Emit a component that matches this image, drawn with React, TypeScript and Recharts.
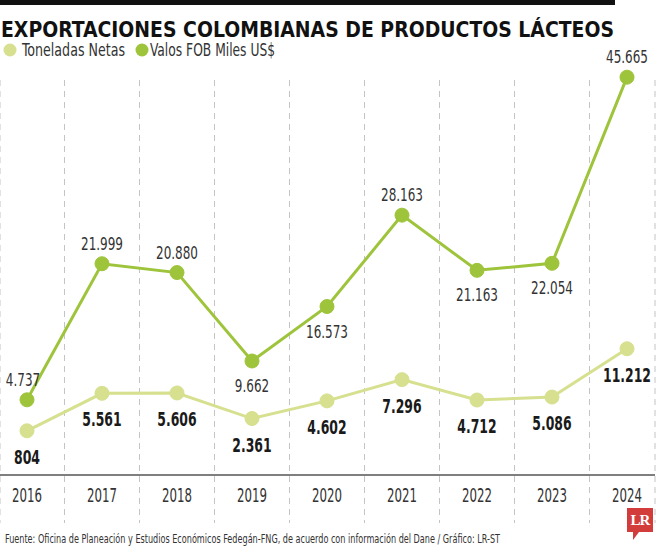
import React from "react";
import { LineChart, Line, XAxis, YAxis, CartesianGrid, LabelList } from "recharts";

const years = ["2016", "2017", "2018", "2019", "2020", "2021", "2022", "2023", "2024"];
const toneladasNetas = [804, 5561, 5606, 2361, 4602, 7296, 4712, 5086, 11212];
const valoresFob = [4737, 21999, 20880, 9662, 16573, 28163, 21163, 22054, 45665];

const LIGHT = "#d6e08e";
const DARK = "#9ec43b";
const FONT = '"DejaVu Sans Condensed", "Liberation Sans", sans-serif';

const data = years.map((year, i) => ({
  year,
  idx: i,
  toneladas: toneladasNetas[i],
  fob: valoresFob[i],
}));

// dashed grid lines sit halfway between two years
const gridTicks = years.slice(1).map((_, i) => i + 0.5);

// 4737 -> "4.737"
const fmt = (v: number) => String(v).replace(/\B(?=(\d{3})+(?!\d))/g, ".");

// the original uses a very narrow font, so squeeze the glyphs to its width
const narrowWidth = (s: string, digit: number, dot: number) =>
  s.split("").reduce((w, c) => w + (c === "." ? dot : digit), 0);

// FOB label goes under the dot when the line climbs after it (except the first one)
const FobLabel = (props: any) => {
  const { x, y, value, index } = props;
  const below = index > 0 && index < valoresFob.length - 1 && valoresFob[index + 1] > valoresFob[index];
  const txt = fmt(value);
  return (
    <text
      x={index === 0 ? x - 4 : x}
      y={below ? y + 31 : y - 14}
      textAnchor="middle"
      fontFamily={FONT}
      fontSize={17}
      fill="#333"
      textLength={narrowWidth(txt, 7.7, 3.5)}
      lengthAdjust="spacingAndGlyphs"
    >
      {txt}
    </text>
  );
};

const TonLabel = (props: any) => {
  const { x, y, value } = props;
  const txt = fmt(value);
  return (
    <text
      x={x}
      y={y + 33}
      textAnchor="middle"
      fontFamily={FONT}
      fontSize={19}
      fontWeight="bold"
      fill="#1a1a1a"
      textLength={narrowWidth(txt, 8.7, 4.5)}
      lengthAdjust="spacingAndGlyphs"
    >
      {txt}
    </text>
  );
};

const YearTick = ({ x, y, payload }: any) => (
  <text
    x={x}
    y={y}
    dy={14}
    textAnchor="middle"
    fontFamily={FONT}
    fontSize={20}
    fill="#333"
    textLength={narrowWidth(String(payload.value), 7.5, 7.5)}
    lengthAdjust="spacingAndGlyphs"
  >
    {payload.value}
  </text>
);

export default function App() {
  return (
    <div
      style={{
        position: "absolute",
        left: 0,
        top: 0,
        width: 660,
        height: 550,
        background: "#fff",
        overflow: "hidden",
      }}
    >
      <svg width={660} height={550} style={{ position: "absolute", left: 0, top: 0 }}>
        <rect x={0} y={0} width={615} height={5} fill="#111" />
        <text
          x={1}
          y={37}
          fontFamily={FONT}
          fontSize={22}
          fontWeight="bold"
          fill="#111"
          textLength={613}
          lengthAdjust="spacingAndGlyphs"
        >
          EXPORTACIONES COLOMBIANAS DE PRODUCTOS LÁCTEOS
        </text>
        <circle cx={10} cy={50} r={6.5} fill={LIGHT} />
        <text x={22} y={56} fontFamily={FONT} fontSize={17} fill="#333" textLength={103} lengthAdjust="spacingAndGlyphs">
          Toneladas Netas
        </text>
        <circle cx={142} cy={50} r={6.5} fill={DARK} />
        <text x={150} y={56} fontFamily={FONT} fontSize={17} fill="#333" textLength={125} lengthAdjust="spacingAndGlyphs">
          Valos FOB Miles US$
        </text>
        <text x={5} y={543} fontFamily={FONT} fontSize={13} fill="#333" textLength={495} lengthAdjust="spacingAndGlyphs">
          Fuente: Oficina de Planeación y Estudios Económicos Fedegán-FNG, de acuerdo con información del Dane / Gráfico: LR-ST
        </text>
      </svg>

      <div style={{ position: "absolute", left: 0, top: 0 }}>
        <LineChart width={660} height={550} data={data} margin={{ top: 43, right: 5, bottom: 45, left: 0 }}>
          <CartesianGrid
            horizontal={false}
            xAxisId="grid"
            y={80}
            height={443}
            stroke="#c4c4c4"
            strokeDasharray="6 5"
          />
          <XAxis
            dataKey="year"
            height={30}
            padding={{ left: 27, right: 28 }}
            axisLine={{ stroke: "#555", strokeWidth: 1.5 }}
            tickLine={false}
            tickMargin={7}
            tick={<YearTick />}
            interval={0}
          />
          <XAxis
            xAxisId="grid"
            dataKey="idx"
            type="number"
            domain={[0, years.length - 1]}
            ticks={gridTicks}
            padding={{ left: 27, right: 28 }}
            hide
          />
          <YAxis hide type="number" domain={[-4800, 50000]} allowDataOverflow />
          <Line
            dataKey="toneladas"
            stroke={LIGHT}
            strokeWidth={3}
            dot={{ r: 7, fill: LIGHT, stroke: LIGHT, strokeWidth: 1 }}
            isAnimationActive={false}
          >
            <LabelList dataKey="toneladas" content={<TonLabel />} />
          </Line>
          <Line
            dataKey="fob"
            stroke={DARK}
            strokeWidth={3}
            dot={{ r: 7, fill: DARK, stroke: DARK, strokeWidth: 1 }}
            isAnimationActive={false}
          >
            <LabelList dataKey="fob" content={<FobLabel />} />
          </Line>
        </LineChart>
      </div>

      <div
        style={{
          position: "absolute",
          left: 627,
          top: 508,
          width: 26,
          height: 24,
          background: "#d23d3c",
          color: "#fff",
          fontFamily: '"Liberation Serif", "DejaVu Serif", serif',
          fontWeight: "bold",
          fontSize: 15,
          lineHeight: "24px",
          textAlign: "center",
          letterSpacing: -1,
        }}
      >
        LR
      </div>
      <div
        style={{
          position: "absolute",
          left: 633,
          top: 532,
          width: 0,
          height: 0,
          borderLeft: "6px solid #d23d3c",
          borderBottom: "8px solid transparent",
        }}
      />
    </div>
  );
}
